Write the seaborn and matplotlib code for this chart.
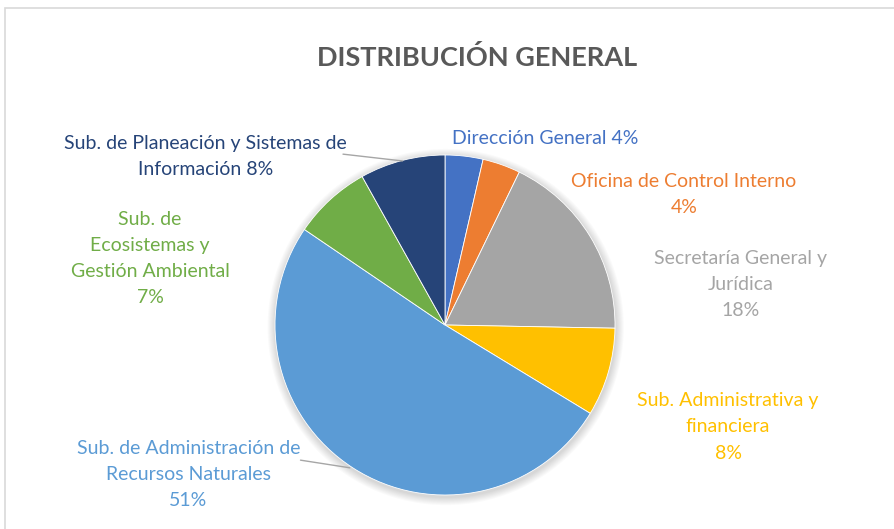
import matplotlib
matplotlib.use("Agg")
import matplotlib.pyplot as plt
import seaborn as sns
from matplotlib.patches import Rectangle, Circle

# Data (clockwise from 12 o'clock)
areas = [
    "Dirección General",
    "Oficina de Control Interno",
    "Secretaría General y\nJurídica",
    "Sub. Administrativa y\nfinanciera",
    "Sub. de Administración de\nRecursos Naturales",
    "Sub. de\nEcosistemas y\nGestión Ambiental",
    "Sub. de Planeación y Sistemas de\nInformación",
]
shares = [3.6, 3.6, 18.1, 8.4, 50.8, 7.4, 8.1]
pct_sep = [" ", "\n", "\n", "\n", "\n", "\n", " "]
colors = ["#4472C4", "#ED7D31", "#A5A5A5", "#FFC000", "#5B9BD5", "#70AD47", "#264478"]
title = "DISTRIBUCIÓN GENERAL"

sns.set_theme(style="white")
plt.rcParams["font.family"] = ["Lato", "DejaVu Sans"]

W, H = 894, 529
fig = plt.figure(figsize=(W / 100, H / 100), dpi=100)

# light chart-area frame (cropped on the right and bottom)
fig.patches.append(Rectangle((5 / W, -0.05), 1.0, 1 - 8 / H + 0.05,
                             transform=fig.transFigure, fill=False,
                             edgecolor="#D9D9D9", linewidth=1.2))

fig.text(477 / W, 1 - 57 / H, title, ha="center", va="center",
         fontsize=19.5, fontweight="bold", color="#595959")

# pie: centre (445, 325), radius 170 px
cx, cy, r = 445, 325, 170
ax = fig.add_axes([(cx - r) / W, (H - cy - r) / H, 2 * r / W, 2 * r / H])

# soft shadow around the pie
for i in range(8):
    ax.add_patch(Circle((0.004, -0.012), 1.0 + 0.006 * (8 - i), color="black",
                        alpha=0.018, linewidth=0, zorder=0, clip_on=False))

ax.pie(shares, colors=colors, startangle=90, counterclock=False, radius=1.0,
       wedgeprops=dict(edgecolor="white", linewidth=0.6), normalize=True)
ax.set_xlim(-1, 1)
ax.set_ylim(-1, 1)
ax.set_aspect("equal")
ax.axis("off")

total = sum(shares)
label_pos = [(0.588, 1.10), (1.406, 0.77), (1.74, 0.24), (1.665, -0.60),
             (-1.51, -0.88), (-1.735, 0.39), (-1.41, 0.99)]
for name, val, sep, col, (x, y) in zip(areas, shares, pct_sep, colors, label_pos):
    ax.text(x, y, f"{name}{sep}{val / total * 100:.0f}%", ha="center", va="center",
            fontsize=14, color=col, linespacing=1.65, clip_on=False)

# leader lines
ax.plot([-0.60, -0.25], [1.005, 0.965], color="#A6A6A6", linewidth=1, clip_on=False)
ax.plot([-0.85, -0.56], [-0.795, -0.84], color="#A6A6A6", linewidth=1, clip_on=False)

fig.savefig("out.png", dpi=100)
